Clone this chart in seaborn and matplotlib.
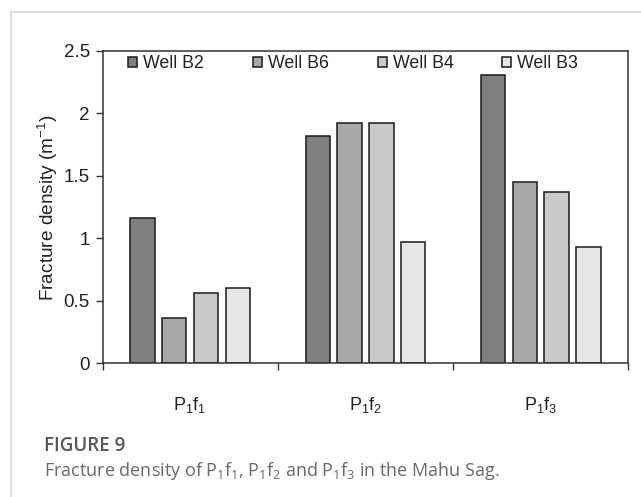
import matplotlib
matplotlib.use("Agg")
import matplotlib.pyplot as plt
import seaborn as sns
import pandas as pd
from matplotlib.lines import Line2D

# ---- data ----
layers = [r"$\mathregular{P_1f_1}$", r"$\mathregular{P_1f_2}$", r"$\mathregular{P_1f_3}$"]
wells = ["Well B2", "Well B6", "Well B4", "Well B3"]
well_b2 = [1.16, 1.82, 2.31]
well_b6 = [0.36, 1.92, 1.45]
well_b4 = [0.56, 1.92, 1.375]
well_b3 = [0.60, 0.97, 0.93]
yticks = [0, 0.5, 1, 1.5, 2, 2.5]
ytick_labels = ["0", "0.5", "1", "1.5", "2", "2.5"]
colors = ["#808080", "#a8a8a8", "#c9c9c9", "#e6e6e6"]

rows = []
for w, vals in zip(wells, [well_b2, well_b6, well_b4, well_b3]):
    for lay, v in zip(layers, vals):
        rows.append({"layer": lay, "well": w, "density": v})
df = pd.DataFrame(rows)

sns.set_style("white")
plt.rcParams["font.family"] = ["Liberation Sans", "DejaVu Sans"]

fig = plt.figure(figsize=(6.41, 4.97), dpi=100)
fig.patch.set_facecolor("white")
W, H = 641, 497
ax = fig.add_axes([102.5 / W, 1 - 363.3 / H, (628.3 - 102.5) / W, (363.3 - 51) / H])

sns.barplot(data=df, x="layer", y="density", hue="well", hue_order=wells,
            order=layers, palette=colors, width=0.725, gap=0.23,
            edgecolor="#1a1a1a", linewidth=1.1, ax=ax, legend=True)

ax.set_xlim(-0.5, 2.5)
ax.set_ylim(0, 2.5)
ax.set_yticks(yticks)
ax.set_yticklabels(ytick_labels)
ax.set_xticks([0, 1, 2])
ax.set_xticklabels(layers)
ax.set_xticks([-0.5, 0.5, 1.5, 2.5], minor=True)
ax.tick_params(axis="x", which="major", length=0, pad=23, labelsize=13, colors="#222222")
ax.tick_params(axis="x", which="minor", length=5, width=1, color="#333333", direction="out", bottom=True)
ax.tick_params(axis="y", which="major", length=5, width=1, color="#333333", direction="out",
               left=True, pad=4, labelsize=13.5, labelcolor="#222222")
for s in ax.spines.values():
    s.set_visible(True)
    s.set_color("#333333")
    s.set_linewidth(1.1)
ax.set_xlabel("")
ax.set_ylabel("Fracture density (m$^{\\mathregular{-1}}$)", fontsize=13.7, color="#222222", labelpad=3)

leg = ax.legend(loc="center left", bbox_to_anchor=(0.049, 0.959), ncol=4, frameon=False,
                fontsize=12.8, handlelength=0.5, handleheight=0.5, handletextpad=0.34,
                columnspacing=2.75, borderpad=0, borderaxespad=0)
for t in leg.get_texts():
    t.set_color("#222222")

# card frame
fig.add_artist(Line2D([11 / W, 1.0], [1 - 12 / H, 1 - 12 / H], color="#d9d9d9", lw=1.2,
                      transform=fig.transFigure))
fig.add_artist(Line2D([11 / W, 11 / W], [1 - 12 / H, 0.0], color="#d9d9d9", lw=1.2,
                      transform=fig.transFigure))

# caption
fig.text(44 / W, 1 - 451 / H, "FIGURE 9", fontsize=13.5, fontweight="semibold",
         family=["Open Sans", "DejaVu Sans"], color="#585858", va="baseline")
fig.text(44 / W, 1 - 476.5 / H,
         r"Fracture density of $\mathregular{P_1f_1}$, $\mathregular{P_1f_2}$ and $\mathregular{P_1f_3}$ in the Mahu Sag.",
         fontsize=13, family=["Open Sans", "DejaVu Sans"], color="#6a6a6a", va="baseline")

fig.savefig("out.png", dpi=100, facecolor="white")
